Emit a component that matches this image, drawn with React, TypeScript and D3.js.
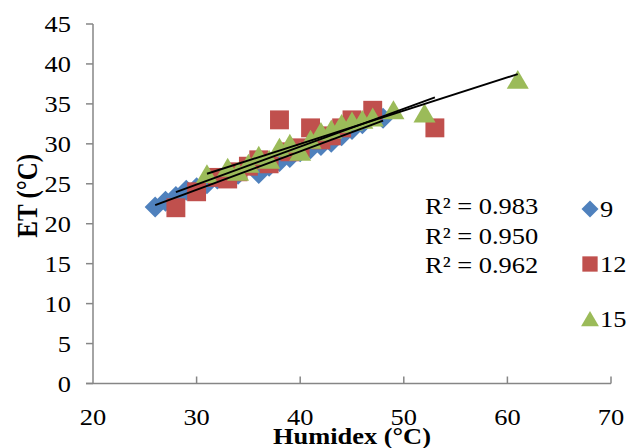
import * as d3 from "d3";
import { useEffect, useRef } from "react";

// Humidex (°C) vs ET (°C) for three groups
const series9: [number, number][] = [
  [26, 22.1], [27, 22.8], [28, 23.4], [29, 24.2], [30, 24.5], [31, 25], [32, 25.6],
  [34, 26.2], [36, 26.3], [37, 27.2], [38, 27.8], [39, 28.3], [40, 29], [41, 29.4],
  [42, 29.8], [43, 30.2], [44, 31], [45, 31.8], [46, 32.5], [48, 33.2],
];
const series12: [number, number][] = [
  [28, 22], [30, 24], [32, 25.8], [33, 25.6], [34, 26.5], [35, 27.2], [36, 28],
  [37, 27.5], [38, 33], [39, 29], [40, 29.5], [41, 32], [42, 30.5], [43, 31],
  [44, 32], [45, 33], [47, 34.2], [53, 32],
];
const series15: [number, number][] = [
  [31, 26.2], [33, 27], [34, 26.5], [35, 27.5], [36, 28.5], [37, 28], [38, 29.5],
  [39, 30], [40, 29], [41, 30.5], [42, 31.5], [43, 31.8], [44, 32.5], [45, 32.8],
  [46, 33], [47, 33.3], [49, 34.2], [52, 33.8], [61, 38],
];
const seriesNames = ["9", "12", "15"];
const rSquared = ["R² = 0.983", "R² = 0.950", "R² = 0.962"];
const xTicks = [20, 30, 40, 50, 60, 70];
const yTicks = [0, 5, 10, 15, 20, 25, 30, 35, 40, 45];

const colors = ["#4F81BD", "#C0504D", "#9BBB59"];
const axisColor = "#868686";
const font = "'Liberation Serif', 'Times New Roman', serif";
const stretch = 1.15; // the original text is a bit wide

function markerPath(kind: number, s: number) {
  if (kind === 0) return `M0,${-s}L${s},0L0,${s}L${-s},0Z`;
  if (kind === 1) return `M${-s * 0.9},${-s * 0.9}h${s * 1.8}v${s * 1.8}h${-s * 1.8}Z`;
  return `M0,${-s * 0.95}L${s * 1.05},${s * 0.85}L${-s * 1.05},${s * 0.85}Z`;
}

function fit(pts: [number, number][]) {
  const mx = d3.mean(pts, (d) => d[0])!;
  const my = d3.mean(pts, (d) => d[1])!;
  const sxy = d3.sum(pts, (d) => (d[0] - mx) * (d[1] - my));
  const sxx = d3.sum(pts, (d) => (d[0] - mx) ** 2);
  const b = sxy / sxx;
  return { a: my - b * mx, b };
}

export default function App() {
  const ref = useRef<SVGSVGElement>(null);
  const width = 628;
  const height = 448;

  useEffect(() => {
    const svg = d3.select(ref.current);
    svg.selectAll("*").remove();

    const x = d3.scaleLinear().domain([20, 70]).range([93, 611]);
    const y = d3.scaleLinear().domain([0, 45]).range([383.5, 24]);
    const at = (px: number, py: number) => `translate(${px},${py}) scale(${stretch},1)`;

    const axes = svg.append("g").attr("stroke", axisColor).attr("stroke-width", 1.5);
    axes.append("line").attr("x1", x(20)).attr("x2", x(20)).attr("y1", y(45)).attr("y2", y(0));
    axes.append("line").attr("x1", x(20) - 7).attr("x2", x(70)).attr("y1", y(0)).attr("y2", y(0));
    axes.selectAll(".yt").data(yTicks).join("line")
      .attr("x1", x(20) - 7).attr("x2", x(20))
      .attr("y1", (d) => y(d)).attr("y2", (d) => y(d));
    axes.selectAll(".xt").data(xTicks.slice(1)).join("line")
      .attr("x1", (d) => x(d)).attr("x2", (d) => x(d))
      .attr("y1", y(0)).attr("y2", y(0) - 7);

    const labels = svg.append("g").attr("font-family", font).attr("font-size", 23).attr("fill", "#000");
    labels.selectAll(".yl").data(yTicks).join("text")
      .attr("transform", (d) => at(71, y(d))).attr("dy", "0.35em")
      .attr("text-anchor", "end").text((d) => d);
    labels.selectAll(".xl").data(xTicks).join("text")
      .attr("transform", (d) => at(x(d), 425))
      .attr("text-anchor", "middle").text((d) => d);

    svg.append("text")
      .attr("font-family", font).attr("font-size", 25).attr("font-weight", "bold")
      .attr("text-anchor", "middle")
      .attr("transform", `translate(37,${y(23.5)}) rotate(-90) scale(1,${stretch})`)
      .text("ET (°C)");
    svg.append("text")
      .attr("font-family", font).attr("font-size", 24).attr("font-weight", "bold")
      .attr("text-anchor", "middle")
      .attr("transform", `translate(352,444) scale(1.1,1)`)
      .text("Humidex (°C)");

    const all = [series9, series12, series15];
    all.forEach((pts, i) => {
      svg.append("g").selectAll("path").data(pts).join("path")
        .attr("transform", (d) => `translate(${x(d[0])},${y(d[1])})`)
        .attr("d", markerPath(i, 10.5))
        .attr("fill", colors[i]);
    });

    all.forEach((pts) => {
      const { a, b } = fit(pts);
      const [x0, x1] = d3.extent(pts, (d) => d[0]) as [number, number];
      svg.append("line")
        .attr("x1", x(x0)).attr("y1", y(a + b * x0))
        .attr("x2", x(x1)).attr("y2", y(a + b * x1))
        .attr("stroke", "#000").attr("stroke-width", 2);
    });

    svg.append("g").attr("font-family", font).attr("font-size", 23)
      .selectAll("text").data(rSquared).join("text")
      .attr("transform", (_, i) => at(425, 214 + i * 29.5))
      .text((d) => d);

    const leg = svg.append("g");
    seriesNames.forEach((name, i) => {
      const cy = 209 + i * 55;
      leg.append("path")
        .attr("transform", `translate(590,${cy})`)
        .attr("d", markerPath(i, 8.5))
        .attr("fill", colors[i]);
      leg.append("text")
        .attr("transform", at(600, cy)).attr("dy", "0.35em")
        .attr("font-family", font).attr("font-size", 23)
        .text(name);
    });
  }, []);

  return (
    <svg
      ref={ref}
      width={width}
      height={height}
      style={{ position: "absolute", left: 0, top: 0, background: "#fff" }}
    />
  );
}
